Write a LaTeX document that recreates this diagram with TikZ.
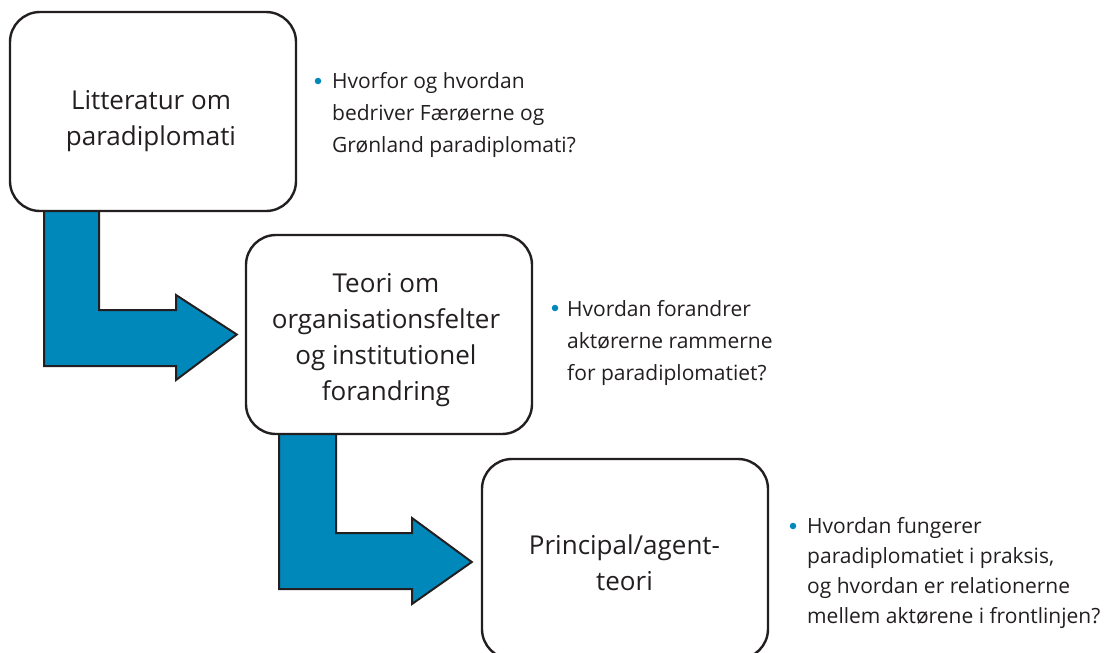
\documentclass[tikz,border=0pt]{standalone}
\usepackage{fontspec}
\setmainfont{Open Sans}
\usetikzlibrary{calc,backgrounds}
\definecolor{ink}{HTML}{231F20}
\definecolor{flowblue}{HTML}{0088BB}
\tikzset{
  x=1pt, y=-1pt,
  box/.style={draw=ink, line width=2.4pt, rounded corners=30pt, fill=white,
    inner sep=0pt},
  boxtext/.style={anchor=base, align=center, text=ink, inner sep=0pt,
    font={\fontsize{26}{36}\selectfont}},
  bullettext/.style={anchor=base west, align=left, text=ink, inner sep=0pt,
    font={\fontsize{21}{32}\selectfont}},
  bulletdot/.style={circle, fill=flowblue, inner sep=0pt, minimum size=6.5pt},
  blockarrow/.style={draw=ink, line width=2pt, fill=flowblue, line join=miter},
}
\begin{document}
\begin{tikzpicture}
\clip (0,0) rectangle (1106,653);
\useasboundingbox (0,0) rectangle (1106,653);

\node[box, minimum width=286pt, minimum height=199pt] (b1) at (153,111.5) {};
\node[boxtext] (t1) at (151,145) {Litteratur om\\paradiplomati};
\node[box, minimum width=286pt, minimum height=199pt] (b2) at (389,334.5) {};
\node[boxtext] (t2) at (386,400)
  {Teori om\\organisationsfelter\\og institutionel\\forandring};
\node[box, minimum width=286pt, minimum height=200pt] (b3) at (625,559) {};
\node[boxtext] (t3) at (624.5,590) {Principal/agent-\\teori};

\node[bullettext] (q1) at (332,152)
  {Hvorfor og hvordan\\bedriver Færøerne og\\Grønland paradiplomati?};
\node[bulletdot] (d1) at (318,81) {};
\node[bullettext] (q2) at (567,380)
  {Hvordan forandrer\\aktørerne rammerne\\for paradiplomatiet?};
\node[bulletdot] (d2) at (555,308) {};
\node[bullettext, font={\fontsize{21}{30}\selectfont}] (q3) at (807,623)
  {Hvordan fungerer\\paradiplomatiet i praksis,\\og hvordan er relationerne\\mellem aktørene i frontlinjen?};
\node[bulletdot] (d3) at (793,526) {};

\begin{scope}[on background layer]
\draw[blockarrow] (44,211) -- (44,366) -- (176,366) -- (176,380)
  -- ([xshift=-8pt]b2.west) -- (176,295) -- (176,310) -- (99,310) -- (99,211);
\draw[blockarrow] (279,434) -- (279,589) -- (412,589) -- (412,604)
  -- ([xshift=-9pt]b3.west |- 0,562) -- (412,518) -- (412,533) -- (336,533) -- (336,434);
\end{scope}
\end{tikzpicture}
\end{document}
